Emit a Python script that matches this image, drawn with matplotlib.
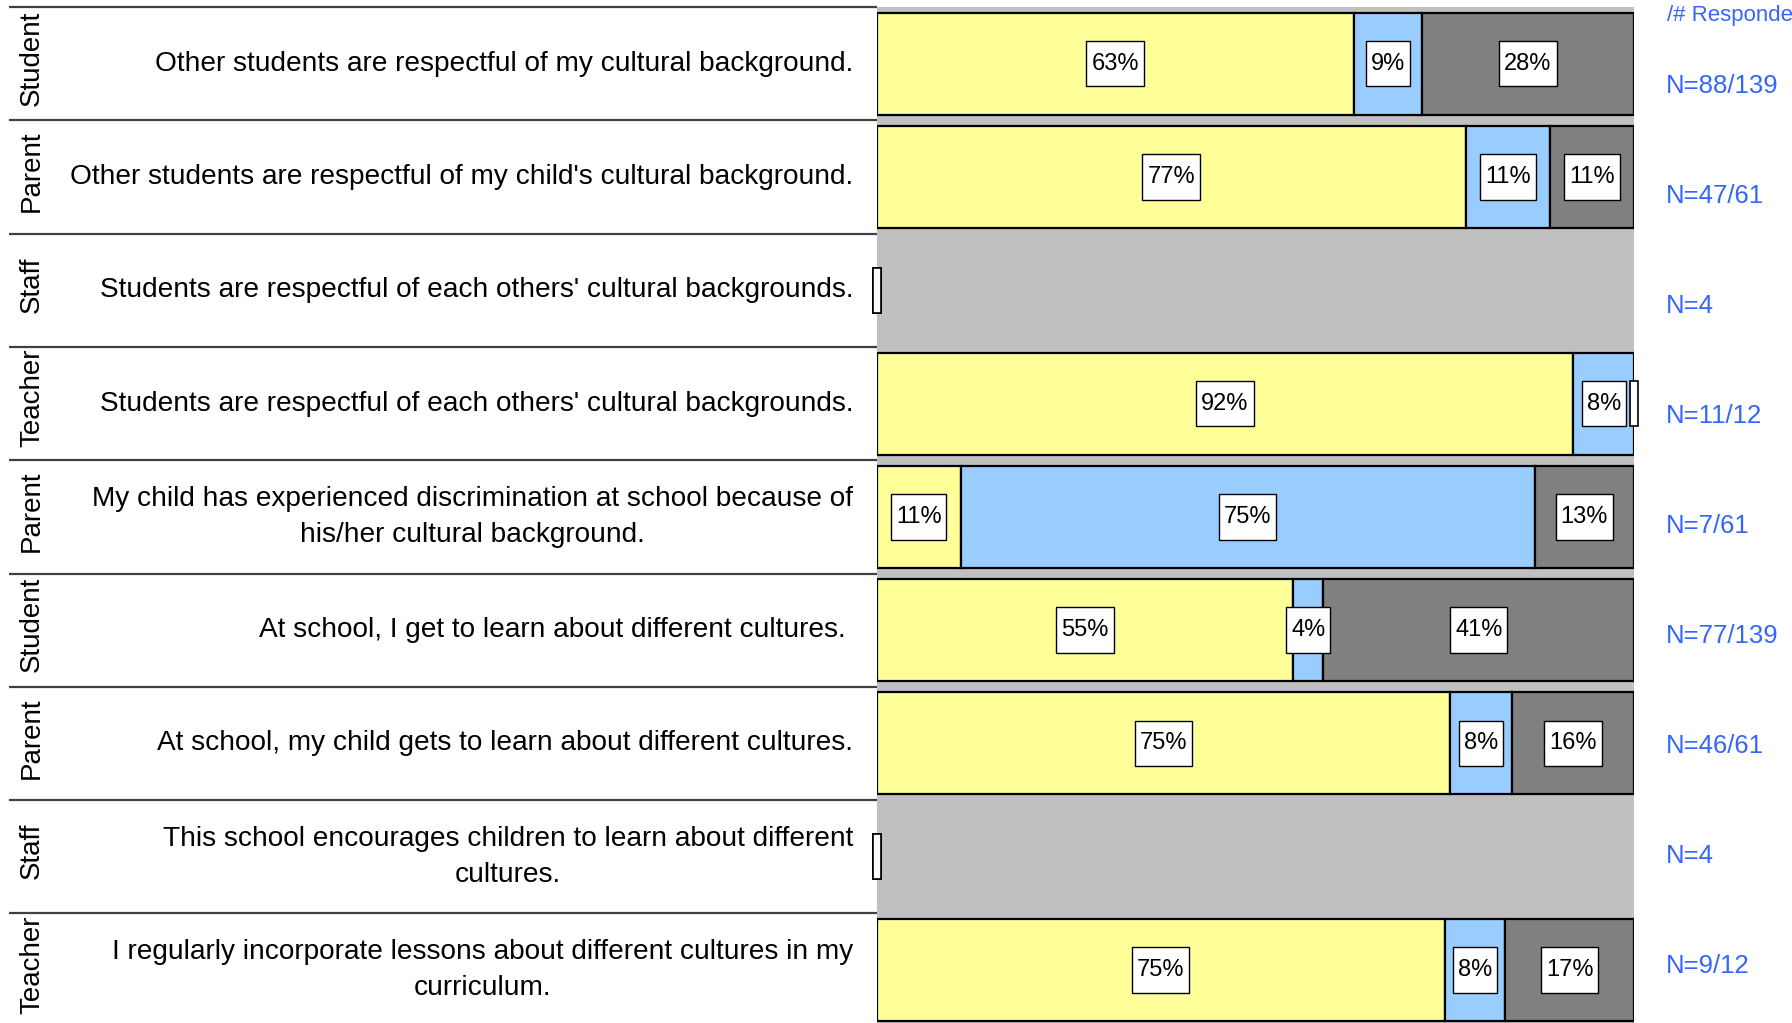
import matplotlib
matplotlib.use("Agg")
import matplotlib.pyplot as plt
from matplotlib.patches import Rectangle
from matplotlib.path import Path
from matplotlib.transforms import ScaledTranslation, blended_transform_factory

plt.rcParams['font.family'] = ['Liberation Sans', 'DejaVu Sans']

# ---------------- data ----------------
groups = ["Student", "Parent", "Staff", "Teacher", "Parent",
          "Student", "Parent", "Staff", "Teacher"]
questions = [
    "Other students are respectful of my cultural background.",
    "Other students are respectful of my child's cultural background.",
    "Students are respectful of each others' cultural backgrounds.",
    "Students are respectful of each others' cultural backgrounds.",
    "My child has experienced discrimination at school because of\nhis/her cultural background.",
    "At school, I get to learn about different cultures. ",
    "At school, my child gets to learn about different cultures.",
    "This school encourages children to learn about different\ncultures.",
    "I regularly incorporate lessons about different cultures in my\ncurriculum.",
]
agree = [63, 77, 0, 92, 11, 55, 75, 0, 75]
neutral = [9, 11, 0, 8, 75, 4, 8, 0, 8]
disagree = [28, 11, 0, 0, 13, 41, 16, 0, 17]
n_labels = ["N=88/139", "N=47/61", "N=4", "N=11/12", "N=7/61",
            "N=77/139", "N=46/61", "N=4", "N=9/12"]
header = "/# Respondents"

seg_colors = ["#FFFF99", "#99CCFF", "#808080"]
bg_gray = "#C0C0C0"
n_color = "#3366FF"


def label_box(x0, y0, width, height, mutation_size):
    px = 0.21 * mutation_size
    py = 0.50 * mutation_size
    verts = [(x0 - px, y0 - py), (x0 + width + px, y0 - py),
             (x0 + width + px, y0 + height + py), (x0 - px, y0 + height + py),
             (x0 - px, y0 - py)]
    return Path(verts, closed=True)


# ---------------- layout ----------------
W, H = 1792, 1023
fig = plt.figure(figsize=(W / 100, H / 100), dpi=100)

top_px = 7
pitch_px = 113.3
ymax = (H - top_px) / pitch_px
bar_left_px, bar_right_px = 876.6, 1634

ax_left = fig.add_axes([0, 0, bar_left_px / W, 1 - top_px / H])
ax_bar = fig.add_axes([bar_left_px / W, 0, (bar_right_px - bar_left_px) / W, 1 - top_px / H])
for a in (ax_left, ax_bar):
    a.set_ylim(ymax, 0)
ax_left.set_xlim(0, 1)
ax_left.axis("off")
ax_bar.set_xlim(0, 100)
ax_bar.set_facecolor(bg_gray)
for s in ax_bar.spines.values():
    s.set_visible(False)
ax_bar.set_xticks([])
ax_bar.set_yticks([])

n = len(groups)

# left side: separators, group labels, questions
trans_l = blended_transform_factory(ax_left.transAxes, ax_left.transData)
for i in range(n):
    ax_left.plot([9 / bar_left_px, 1], [i, i], color="#404040", lw=1.6,
                 transform=trans_l, solid_capstyle="butt", clip_on=False)
for i, (g, q) in enumerate(zip(groups, questions)):
    clip = Rectangle((0, i), 1, 1, transform=trans_l, visible=False)
    ax_left.add_artist(clip)
    t = ax_left.text(32 / bar_left_px, i + 0.5 - 0.05, g, rotation=90,
                     ha="center", va="center", fontsize=20, transform=trans_l)
    t.set_clip_path(clip)
    ax_left.text(853 / bar_left_px, i + 0.5, q, ha="right", va="center",
                 multialignment="center", fontsize=20.2, linespacing=1.49,
                 transform=trans_l)

# bars
bar_h = 0.9
for i in range(n):
    vals = [agree[i], neutral[i], disagree[i]]
    tot = sum(vals)
    left = 0.0
    for v, c in zip(vals, seg_colors):
        w = v * 100.0 / tot if tot > 0 else 0.0
        if w > 0:
            ax_bar.barh(i + 0.5, w, left=left, height=bar_h, color=c,
                        edgecolor="black", linewidth=1.6, zorder=2)
            ax_bar.text(left + w / 2, i + 0.5, f"{v}%", ha="center", va="center",
                        fontsize=17, zorder=4,
                        bbox=dict(boxstyle=label_box, fc="white",
                                  ec="black", lw=1))
        else:
            tr = fig.dpi_scale_trans + ScaledTranslation(left, i + 0.5, ax_bar.transData)
            box = Rectangle((-0.04, -0.225), 0.08, 0.45, transform=tr,
                            fc="white", ec="black", lw=1.2, zorder=5, clip_on=False)
            ax_bar.add_artist(box)
        left += w
ax_bar.set_xlim(0, 100)
ax_bar.set_ylim(ymax, 0)

# N labels
n_top_px, n_pitch_px = 30.7, 110.0
ax_n = fig.add_axes([1666 / W, 1 - (n_top_px + n * n_pitch_px) / H, 120 / W, n * n_pitch_px / H])
ax_n.set_ylim(n, 0)
ax_n.set_xlim(0, 1)
ax_n.axis("off")
for i, lab in enumerate(n_labels):
    ax_n.text(0, i + 0.5, lab, ha="left", va="center", fontsize=18.5,
              color=n_color, clip_on=False)
fig.text(1667 / W, 1 - 15 / H, header, ha="left", va="center",
         fontsize=16, color=n_color)

fig.savefig("out.png", dpi=100)
